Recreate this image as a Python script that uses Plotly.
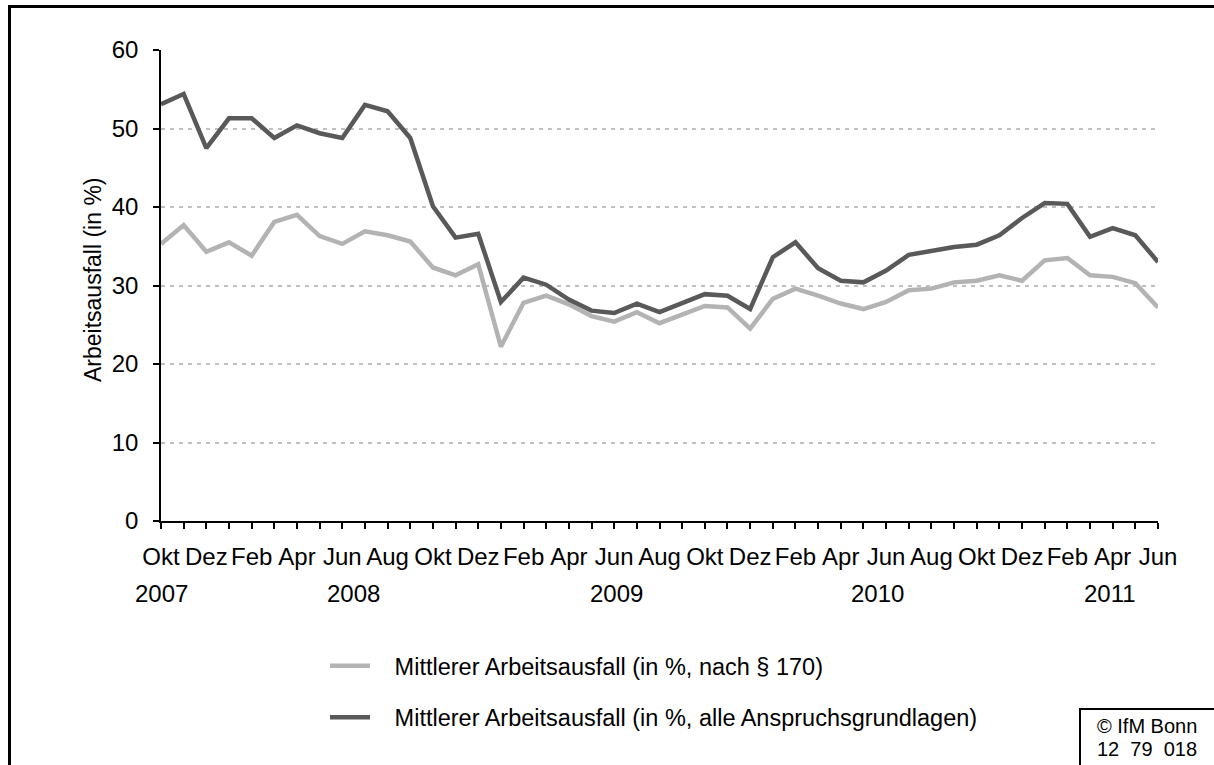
import plotly.graph_objects as go

months = ["Okt", "Nov", "Dez", "Jan", "Feb", "Mär", "Apr", "Mai", "Jun", "Jul", "Aug", "Sep"] * 4
months = months[:45]
tick_labels = [m if i % 2 == 0 else "" for i, m in enumerate(months)]
x_idx = list(range(45))

years = ["2007", "2008", "2009", "2010", "2011"]
year_pos = [0, 8.5, 20.1, 31.6, 41.9]

nach_170 = [35.3, 37.7, 34.3, 35.5, 33.8, 38.1, 39.0, 36.3, 35.3, 36.9, 36.4, 35.6,
            32.3, 31.3, 32.7, 22.2, 27.8, 28.7, 27.6, 26.1, 25.4, 26.6, 25.2, 26.3,
            27.4, 27.2, 24.5, 28.3, 29.6, 28.7, 27.7, 27.0, 27.9, 29.4, 29.6, 30.4,
            30.6, 31.3, 30.6, 33.2, 33.5, 31.3, 31.1, 30.3, 27.2]
alle = [53.1, 54.4, 47.5, 51.3, 51.3, 48.8, 50.4, 49.4, 48.8, 53.0, 52.2, 48.8,
        40.1, 36.1, 36.6, 27.9, 31.0, 30.1, 28.2, 26.8, 26.5, 27.7, 26.6, 27.7,
        28.9, 28.7, 27.0, 33.6, 35.5, 32.2, 30.6, 30.4, 31.9, 33.9, 34.4, 34.9,
        35.2, 36.4, 38.6, 40.5, 40.4, 36.2, 37.3, 36.4, 33.0]

PAD = "\u00a0\u00a0\u00a0"
name_light = "Mittlerer Arbeitsausfall (in %, nach § 170)"
name_dark = "Mittlerer Arbeitsausfall (in %, alle Anspruchsgrundlagen)"

FONT = "Liberation Sans, Arial, sans-serif"
W, H = 1214, 765
L, R, T, B = 161, 56, 50, 244
PW, PH = W - L - R, H - T - B

def px(xp):
    return (xp - L) / PW

def py(yp):
    return (H - B - yp) / PH

fig = go.Figure()
fig.add_trace(go.Scatter(x=x_idx, y=nach_170, mode="lines", name=PAD + name_light,
                         line=dict(color="#b3b3b3", width=4.5), legendgroup="a"))
fig.add_trace(go.Scatter(x=x_idx, y=alle, mode="lines", name=PAD + name_dark,
                         line=dict(color="#595959", width=4.5), legendgroup="b"))

annotations = []
for y_lbl, xp in zip(years, year_pos):
    annotations.append(dict(x=xp, xref="x", y=py(593), yref="paper", text=y_lbl,
                            showarrow=False, xanchor="center", yanchor="middle",
                            font=dict(size=24, color="black", family=FONT)))
annotations.append(dict(x=px(93), xref="paper", y=py(280), yref="paper",
                        text="Arbeitsausfall (in %)", textangle=-90, showarrow=False,
                        xanchor="center", yanchor="middle",
                        font=dict(size=23, color="black", family=FONT)))
annotations.append(dict(x=px(1147), xref="paper", y=py(726), yref="paper",
                        text="© IfM Bonn", showarrow=False, xanchor="center", yanchor="middle",
                        font=dict(size=20, color="black", family=FONT)))
annotations.append(dict(x=px(1147), xref="paper", y=py(749), yref="paper",
                        text="12  79  018", showarrow=False, xanchor="center", yanchor="middle",
                        font=dict(size=20, color="black", family=FONT)))

shapes = [
    dict(type="rect", xref="paper", yref="paper", x0=px(9.5), x1=px(1300),
         y0=py(820), y1=py(6.5), line=dict(color="black", width=3)),
    dict(type="rect", xref="paper", yref="paper", x0=px(1080), x1=px(1300),
         y0=py(820), y1=py(709), line=dict(color="black", width=2)),
]

fig.update_layout(
    width=W, height=H,
    margin=dict(l=L, r=R, t=T, b=B, autoexpand=False),
    paper_bgcolor="white", plot_bgcolor="white",
    font=dict(family=FONT, size=24, color="black"),
    showlegend=True,
    legend=dict(x=px(325), y=py(644), xanchor="left", yanchor="top",
                font=dict(size=23.5, family=FONT, color="black"),
                tracegroupgap=18, itemwidth=40, bgcolor="rgba(0,0,0,0)"),
    annotations=annotations,
    shapes=shapes,
    xaxis=dict(range=[0, 44], tickmode="array", tickvals=x_idx, ticktext=tick_labels,
               showgrid=False, zeroline=False, showline=True, linecolor="black", linewidth=1.5,
               ticks="outside", ticklen=6, tickwidth=1.5, tickcolor="black",
               ticklabelstandoff=7, tickangle=0,
               tickfont=dict(size=24, family=FONT, color="black")),
    yaxis=dict(range=[0, 60], tickvals=[0, 10, 20, 30, 40, 50, 60],
               showgrid=True, gridcolor="#c0c0c0", gridwidth=2, griddash="4px,5px",
               zeroline=False, showline=True, linecolor="black", linewidth=1.5,
               ticks="outside", ticklen=6, tickwidth=1.5, tickcolor="black",
               ticklabelstandoff=10,
               tickfont=dict(size=24, family=FONT, color="black")),
)

fig.write_html("out.html", config={"displayModeBar": False})

# remove the browser's default 8px body margin so the figure sits at the page corner
with open("out.html", "r", encoding="utf-8") as f:
    html = f.read()
html = html.replace("<head>", "<head><style>html,body{margin:0;padding:0;overflow:hidden;}</style>", 1)
with open("out.html", "w", encoding="utf-8") as f:
    f.write(html)
